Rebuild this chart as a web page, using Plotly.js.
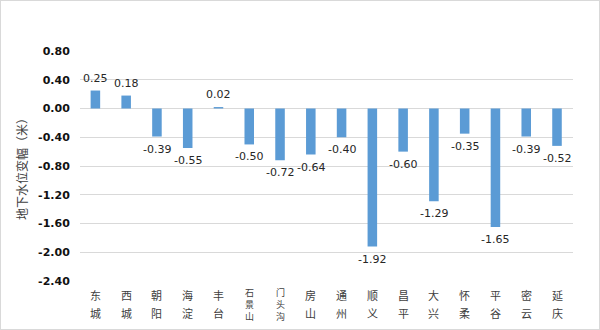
<!DOCTYPE html>
<html>
<head>
<meta charset="utf-8">
<script src="https://cdn.plot.ly/plotly-3.0.1.min.js"></script>
<style>
html,body{margin:0;padding:0;background:#fff;}
#wrap{position:relative;width:600px;height:330px;}
#chart{position:absolute;left:0;top:0;width:600px;height:330px;}
#frame{position:absolute;left:0;top:0;width:598px;height:328px;border:1px solid #d9d9d9;pointer-events:none;}
</style>
</head>
<body>
<div id="wrap"><div id="chart"></div><div id="frame"></div></div>
<script>
const districts = ["东城","西城","朝阳","海淀","丰台","石景山","门头沟","房山","通州","顺义","昌平","大兴","怀柔","平谷","密云","延庆"];
const changes = [0.25, 0.18, -0.39, -0.55, 0.02, -0.50, -0.72, -0.64, -0.40, -1.92, -0.60, -1.29, -0.35, -1.65, -0.39, -0.52];
const yTicks = [0.80, 0.40, 0.00, -0.40, -0.80, -1.20, -1.60, -2.00, -2.40];
const yTitle = "地下水位变幅（米）";

const trace = {
  type: "bar",
  x: districts,
  y: changes,
  width: 0.31,
  marker: {color: "#5b9bd5"},
  hoverinfo: "x+y"
};

const annotations = [];
// value labels
changes.forEach((v, i) => {
  annotations.push({
    x: districts[i], y: v, xref: "x", yref: "y",
    text: v.toFixed(2), showarrow: false,
    yanchor: v >= 0 ? "bottom" : "top",
    yshift: v >= 0 ? 4 : -4,
    font: {family: "DejaVu Sans", size: 11, color: "#262626"}
  });
});
// vertical category labels, one character per annotation
districts.forEach((name) => {
  const chars = Array.from(name);
  const n = chars.length;
  const start = n <= 2 ? 14 : 11;
  const step = n <= 2 ? 18 : 12;
  chars.forEach((c, j) => {
    annotations.push({
      x: name, y: 0, xref: "x", yref: "paper",
      text: c, showarrow: false,
      yanchor: "middle", yshift: -(start + j * step), borderpad: 0,
      font: {family: "Noto Sans CJK SC", size: n <= 2 ? 11 : 9, color: "#404040"}
    });
  });
});

const layout = {
  width: 600, height: 330,
  margin: {l: 80, r: 27, t: 51, b: 49},
  paper_bgcolor: "#fff", plot_bgcolor: "#fff",
  showlegend: false,
  xaxis: {
    type: "category",
    showticklabels: false,
    showgrid: false, zeroline: false, showline: false, ticks: ""
  },
  yaxis: {
    range: [-2.4, 0.8],
    tickvals: yTicks,
    ticktext: yTicks.map(v => "<b>" + v.toFixed(2) + "</b>"),
    tickfont: {family: "DejaVu Sans", size: 11, color: "#111111", weight: "bold"},
    ticks: "outside", ticklen: 7, tickcolor: "rgba(0,0,0,0)",
    showgrid: true, gridcolor: "#d9d9d9", gridwidth: 1,
    zeroline: true, zerolinecolor: "#d9d9d9", zerolinewidth: 1,
    showline: false,
    title: {text: yTitle, standoff: 7, font: {family: "Noto Sans CJK SC", size: 12, color: "#404040"}}
  },
  annotations: annotations
};

Plotly.newPlot("chart", [trace], layout, {displayModeBar: false, staticPlot: true});
</script>
</body>
</html>
